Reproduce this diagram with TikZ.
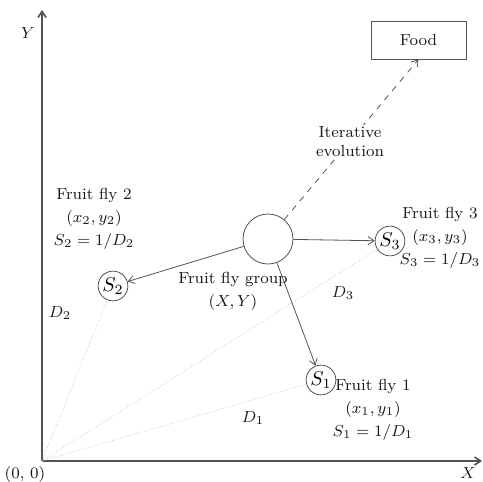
\documentclass[tikz,border=0pt]{standalone}
\usepackage{amsmath}
\usetikzlibrary{arrows.meta}

\tikzset{
  fly/.style    = {circle, draw=gray!65!black, inner sep=0.5pt, minimum size=12.5pt},
  flylabel/.style = {align=center, font=\footnotesize, text=gray!20!black},
  link/.style   = {draw=gray!65!black, -{Straight Barb[length=3pt,width=4pt]}},
  reach/.style  = {draw=gray!45, densely dotted},
}

\begin{document}
\begin{tikzpicture}[x=0.5pt, y=-0.5pt]
  \useasboundingbox (0,0) rectangle (483,482);

  % Axes
  \coordinate (o) at (42,461);
  \coordinate (ytop) at (42,10);
  \coordinate (xend) at (482,461);
  \draw[link, thick] (o) -- (ytop);
  \draw[link, thick] (o) -- (xend);

  % Axis labels
  \node[flylabel] (ylab) at (28,33)  {$Y$};
  \node[flylabel] (xlab) at (468,473) {$X$};
  \node[flylabel] (olab) at (25,474) {(0, 0)};

  % Food box
  \node[draw=gray!65!black, minimum width=47.5pt, minimum height=19pt,
        font=\footnotesize, text=gray!20!black] (food) at (418.5,40) {Food};

  % Swarm and single flies
  \node[fly, minimum size=25pt] (group) at (268,239) {};
  \node[fly] (s1) at (321,380) {$S_1$};
  \node[fly] (s2) at (113,286) {$S_2$};
  \node[fly] (s3) at (390,241) {$S_3$};

  % Distances to the origin
  \draw[reach] (o) -- (s1);
  \draw[reach] (o) -- (s2);
  \draw[reach] (o) -- (s3);

  % Search directions
  \draw[link] (group) -- (s1);
  \draw[link] (group) -- (s2);
  \draw[link] (group) -- (s3);
  \draw[link, dashed] (group) -- (food.south);

  % Labels
  \node[flylabel, fill=white, inner sep=1pt] (iter) at (350,142) {Iterative\\evolution};
  \node[flylabel] (grouplab) at (233,291) {Fruit fly group\\[2pt]$(X, Y)$};
  \node[flylabel] (fly1) at (373,410) {Fruit fly 1\\[2pt]$(x_1, y_1)$\\[2pt]$S_1 = 1/D_1$};
  \node[flylabel] (fly2) at (94,219)  {Fruit fly 2\\[2pt]$(x_2, y_2)$\\[2pt]$S_2 = 1/D_2$};
  \node[flylabel] (fly3) at (440,238) {Fruit fly 3\\[2pt]$(x_3, y_3)$\\[2pt]$S_3 = 1/D_3$};
  \node[flylabel] (d1) at (253,418) {$D_1$};
  \node[flylabel] (d2) at (60,313)  {$D_2$};
  \node[flylabel] (d3) at (343,293) {$D_3$};
\end{tikzpicture}
\end{document}
